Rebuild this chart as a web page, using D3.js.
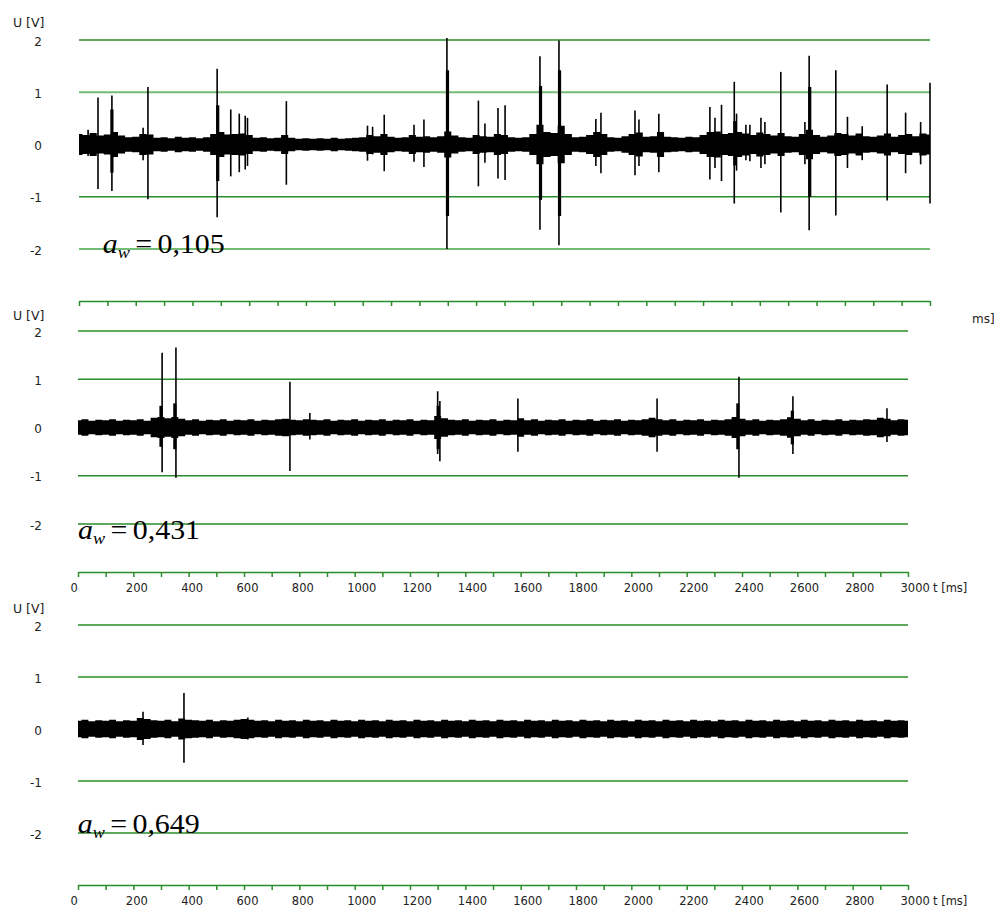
<!DOCTYPE html>
<html>
<head>
<meta charset="utf-8">
<script src="https://cdn.jsdelivr.net/npm/d3@7"></script>
<style>
body { margin: 0; background: #ffffff; }
svg { display: block; }
</style>
</head>
<body>
<svg id="signals"></svg>
<script>
const width = 994, height = 908

// tick values
const yTicks = [2, 1, 0, -1, -2]
const xLabels = [0, 200, 400, 600, 800, 1000, 1200, 1400, 1600, 1800, 2000, 2200, 2400, 2600, 2800, 3000]
const xMinor = d3.range(0, 3001, 100)
const weights = ["0,105", "0,431", "0,649"]

// spikes: [t ms, peak V, trough V]
const topSpikes = [
    [32, 0.28, -0.22], [67, 0.90, -0.85], [116, 0.94, -0.89], [226, 0.32, -0.30], [243, 1.10, -1.05],
    [487, 1.45, -1.39], [535, 0.67, -0.61], [565, 0.59, -0.53], [586, 0.55, -0.48], [594, 0.51, -0.41],
    [731, 0.83, -0.77], [1017, 0.36, -0.31], [1035, 0.34, -0.19], [1076, 0.57, -0.51], [1181, 0.38, -0.33],
    [1216, 0.48, -0.43], [1297, 2.04, -2.00], [1408, 0.84, -0.80], [1431, 0.40, -0.35], [1477, 0.70, -0.65],
    [1502, 0.75, -0.68], [1625, 1.69, -1.63], [1692, 1.99, -1.93], [1822, 0.49, -0.41], [1840, 0.61, -0.55],
    [1960, 0.65, -0.59], [1974, 0.48, -0.41], [2044, 0.59, -0.53], [2224, 0.72, -0.67], [2242, 0.51, -0.45],
    [2265, 0.76, -0.70], [2310, 1.20, -1.13], [2318, 0.59, -0.50], [2351, 0.38, -0.30], [2365, 0.38, -0.32],
    [2404, 0.51, -0.45], [2418, 0.43, -0.38], [2474, 1.39, -1.30], [2559, 0.43, -0.38], [2574, 1.70, -1.64],
    [2668, 1.42, -1.36], [2709, 0.53, -0.45], [2761, 0.35, -0.30], [2849, 1.15, -1.07], [2914, 0.61, -0.55],
    [2967, 0.43, -0.38], [3000, 1.18, -1.13],
]
const topBursts = [
    [116, 0.67, -0.54], [489, 0.75, -0.70], [1299, 1.42, -1.37], [1627, 1.12, -1.06],
    [1694, 1.42, -1.37], [2576, 1.10, -1.00], [2312, 0.45, -0.40],
]
const midSpikes = [
    [304, 1.55, -0.93], [354, 1.66, -1.04], [766, 0.95, -0.90], [838, 0.30, -0.25], [1300, 0.75, -0.55],
    [1308, 0.55, -0.70], [1590, 0.60, -0.50], [2093, 0.60, -0.50], [2389, 1.05, -1.04], [2584, 0.65, -0.55],
    [2924, 0.40, -0.30],
]
const midBursts = [
    [300, 0.45, -0.40], [350, 0.50, -0.45], [1302, 0.45, -0.45], [2385, 0.50, -0.45], [2582, 0.35, -0.35],
]
const botSpikes = [
    [235, 0.33, -0.31], [383, 0.69, -0.65], [614, 0.22, -0.20],
]
const botBursts = []

// noise band half-width (V), one value every 25 ms from 0 to 3000
const topAmp = [
    0.20, 0.18, 0.22, 0.17, 0.19, 0.24, 0.17, 0.14, 0.15, 0.20, 0.19, 0.13, 0.14, 0.12, 0.15, 0.13, 0.14, 0.12, 0.14, 0.20,
    0.24, 0.19, 0.20, 0.21, 0.18, 0.13, 0.14, 0.12, 0.13, 0.18, 0.13, 0.11, 0.12, 0.11, 0.12, 0.11, 0.13, 0.11, 0.12, 0.13,
    0.14, 0.18, 0.16, 0.20, 0.15, 0.13, 0.14, 0.18, 0.15, 0.16, 0.14, 0.16, 0.25, 0.17, 0.14, 0.13, 0.18, 0.16, 0.15, 0.20,
    0.18, 0.14, 0.13, 0.14, 0.20, 0.38, 0.24, 0.22, 0.36, 0.20, 0.14, 0.15, 0.18, 0.24, 0.20, 0.14, 0.13, 0.16, 0.20, 0.23,
    0.15, 0.16, 0.24, 0.15, 0.14, 0.13, 0.15, 0.14, 0.18, 0.24, 0.25, 0.20, 0.22, 0.24, 0.21, 0.18, 0.23, 0.20, 0.17, 0.22,
    0.16, 0.15, 0.20, 0.28, 0.18, 0.15, 0.17, 0.22, 0.20, 0.17, 0.21, 0.16, 0.15, 0.17, 0.21, 0.15, 0.18, 0.20, 0.16, 0.21,
    0.19,
]
const midAmp = [
    0.15, 0.17, 0.14, 0.16, 0.15, 0.17, 0.14, 0.16, 0.15, 0.17, 0.14, 0.20, 0.22, 0.19, 0.22, 0.18, 0.15, 0.17, 0.14, 0.16,
    0.15, 0.17, 0.14, 0.16, 0.15, 0.17, 0.14, 0.16, 0.15, 0.17, 0.18, 0.16, 0.15, 0.17, 0.16, 0.15, 0.17, 0.14, 0.16, 0.15,
    0.17, 0.14, 0.16, 0.15, 0.17, 0.14, 0.16, 0.15, 0.17, 0.14, 0.16, 0.15, 0.24, 0.19, 0.16, 0.15, 0.17, 0.14, 0.16, 0.15,
    0.17, 0.14, 0.16, 0.15, 0.19, 0.15, 0.17, 0.14, 0.16, 0.15, 0.17, 0.14, 0.16, 0.15, 0.17, 0.14, 0.16, 0.15, 0.17, 0.14,
    0.16, 0.15, 0.17, 0.20, 0.17, 0.15, 0.17, 0.14, 0.16, 0.15, 0.17, 0.14, 0.16, 0.15, 0.17, 0.22, 0.18, 0.15, 0.17, 0.14,
    0.16, 0.15, 0.17, 0.21, 0.18, 0.15, 0.17, 0.14, 0.16, 0.15, 0.17, 0.14, 0.16, 0.15, 0.17, 0.16, 0.20, 0.18, 0.15, 0.17,
    0.16,
]
const botAmp = [
    0.16, 0.18, 0.15, 0.17, 0.16, 0.18, 0.15, 0.17, 0.16, 0.21, 0.19, 0.17, 0.16, 0.18, 0.15, 0.20, 0.18, 0.17, 0.16, 0.18,
    0.15, 0.17, 0.16, 0.18, 0.19, 0.18, 0.16, 0.17, 0.15, 0.18, 0.16, 0.17, 0.15, 0.18, 0.16, 0.17, 0.15, 0.18, 0.16, 0.17,
    0.15, 0.18, 0.16, 0.17, 0.15, 0.18, 0.16, 0.17, 0.15, 0.18, 0.16, 0.17, 0.15, 0.18, 0.16, 0.17, 0.15, 0.18, 0.16, 0.17,
    0.15, 0.18, 0.16, 0.17, 0.15, 0.18, 0.16, 0.17, 0.15, 0.18, 0.16, 0.17, 0.15, 0.18, 0.16, 0.17, 0.15, 0.18, 0.16, 0.17,
    0.15, 0.18, 0.16, 0.17, 0.15, 0.18, 0.16, 0.17, 0.15, 0.18, 0.16, 0.17, 0.15, 0.18, 0.16, 0.17, 0.15, 0.18, 0.16, 0.17,
    0.15, 0.18, 0.16, 0.17, 0.15, 0.18, 0.16, 0.17, 0.15, 0.18, 0.16, 0.17, 0.15, 0.18, 0.16, 0.17, 0.15, 0.18, 0.16, 0.17,
    0.16,
]

const green = "#2a8c2a", lightGreen = "#74bb74"
const sans = "DejaVu Sans, sans-serif"

const panels = [
    { spikes: topSpikes, bursts: topBursts, amp: topAmp, weight: weights[0],
      xRange: [79, 930], yRange: [249, 40], axisY: 301, labelTop: 27, labels: false, aw: [102.7, 253] },
    { spikes: midSpikes, bursts: midBursts, amp: midAmp, weight: weights[1],
      xRange: [78, 908], yRange: [524, 331], axisY: 572, labelTop: 320, labels: true, aw: [78, 539] },
    { spikes: botSpikes, bursts: botBursts, amp: botAmp, weight: weights[2],
      xRange: [78, 908], yRange: [833, 625], axisY: 885, labelTop: 613, labels: true, aw: [77.7, 833] },
]

const svg = d3.select("svg#signals")
    .attr("width", width)
    .attr("height", height)
    .attr("viewBox", [0, 0, width, height])
    .style("background", "#ffffff")

function drawPanel(p, idx) {
    const x = d3.scaleLinear().domain([0, 3000]).range(p.xRange)
    const y = d3.scaleLinear().domain([-2, 2]).range(p.yRange)
    const g = svg.append("g")

    // grid lines
    g.selectAll("line.grid")
        .data(yTicks)
        .join("line").attr("class", "grid")
        .attr("x1", p.xRange[0]).attr("x2", p.xRange[1])
        .attr("y1", d => y(d)).attr("y2", d => y(d))
        .attr("stroke", d => idx === 0 && (d === 1 || d === -2) ? lightGreen : green)
        .attr("stroke-width", d => idx === 0 && (d === 1 || d === -2) ? 2.2 : 1.3)

    // y labels
    g.selectAll("text.ylab")
        .data(yTicks)
        .join("text").attr("class", "ylab")
        .attr("x", 42)
        .attr("y", d => y(d) + 1.5)
        .attr("text-anchor", "end")
        .attr("dominant-baseline", "central")
        .attr("font-family", sans)
        .attr("font-size", 12)
        .attr("fill", "#222")
        .text(d => d)

    g.append("text")
        .attr("x", 13).attr("y", p.labelTop)
        .attr("font-family", sans)
        .attr("font-size", 12.5)
        .attr("fill", "#222")
        .text("U [V]")

    // noise band
    const band = d3.area()
        .x((d, i) => x(i * 25))
        .y0(d => y(-d))
        .y1(d => y(d))
        .curve(d3.curveStep)
    g.append("path")
        .datum(p.amp)
        .attr("d", band)
        .attr("fill", "#000")

    g.selectAll("line.burst")
        .data(p.bursts)
        .join("line").attr("class", "burst")
        .attr("x1", d => x(d[0])).attr("x2", d => x(d[0]))
        .attr("y1", d => y(d[1])).attr("y2", d => y(d[2]))
        .attr("stroke", "#000")
        .attr("stroke-width", 3.2)

    g.selectAll("line.spike")
        .data(p.spikes)
        .join("line").attr("class", "spike")
        .attr("x1", d => x(d[0])).attr("x2", d => x(d[0]))
        .attr("y1", d => y(d[1])).attr("y2", d => y(d[2]))
        .attr("stroke", "#000")
        .attr("stroke-width", 1.6)

    // time axis
    const axis = g.append("g")
        .attr("transform", `translate(0, ${p.axisY})`)
        .call(d3.axisBottom(x)
            .tickValues(xMinor)
            .tickSize(5)
            .tickSizeOuter(0)
            .tickFormat(d => p.labels && xLabels.includes(d) ? d : ""))
        .attr("font-family", sans)
        .attr("font-size", 11.5)
    axis.select(".domain").attr("stroke", green).attr("stroke-width", 1.5)
    axis.selectAll(".tick line").attr("stroke", green).attr("stroke-width", 1.5)
    axis.selectAll(".tick text")
        .attr("text-anchor", "start")
        .attr("dx", -8)
        .attr("y", 11.5)
        .attr("fill", "#222")

    if (p.labels) {
        g.append("text")
            .attr("x", 933).attr("y", p.axisY + 20)
            .attr("font-family", sans)
            .attr("font-size", 11.5)
            .attr("fill", "#222")
            .text("t [ms]")
    } else {
        g.append("text")
            .attr("x", 972).attr("y", p.axisY + 22)
            .attr("font-family", sans)
            .attr("font-size", 12)
            .attr("fill", "#222")
            .text("ms]")
    }

    // a_w annotation
    const aw = g.append("text")
        .attr("transform", `translate(${p.aw[0]}, ${p.aw[1]}) scale(1.07, 1)`)
        .attr("font-family", "Liberation Serif, Times New Roman, serif")
        .attr("font-size", 28)
        .attr("fill", "#000")
    aw.append("tspan").attr("font-style", "italic").text("a")
    aw.append("tspan").attr("font-style", "italic").attr("font-size", 17).attr("dy", 5).text("w")
    aw.append("tspan").attr("dy", -5).attr("dx", 5).text("=")
    aw.append("tspan").attr("dx", 5).text(p.weight)
}

panels.forEach(drawPanel)
</script>
</body>
</html>
